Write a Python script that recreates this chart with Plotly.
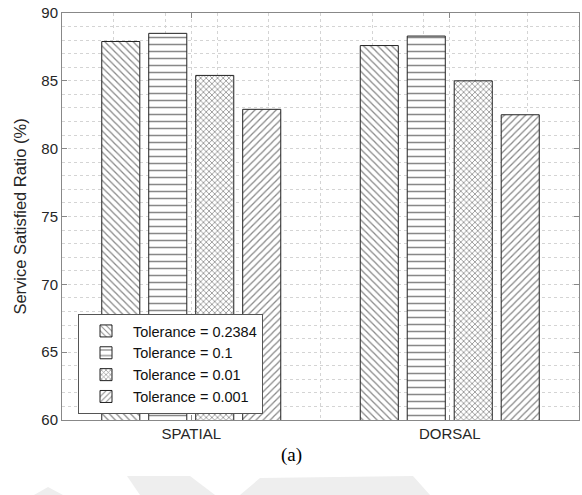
import plotly.graph_objects as go

categories = ["SPATIAL", "DORSAL"]
series_names = ["Tolerance = 0.2384", "Tolerance = 0.1", "Tolerance = 0.01", "Tolerance = 0.001"]
tol_02384 = [87.9, 87.6]
tol_01 = [88.5, 88.3]
tol_001 = [85.4, 85.0]
tol_0001 = [82.9, 82.5]
y_ticks = [60, 65, 70, 75, 80, 85, 90]

series_values = [tol_02384, tol_01, tol_001, tol_0001]
patterns = [("\\", 5, 0.25), ("-", 7, 0.22), ("x", 4, 0.35), ("/", 5, 0.25)]

xpos = list(range(1, len(categories) + 1))

fig = go.Figure()
for name, vals, (shape, size, sol) in zip(series_names, series_values, patterns):
    fig.add_trace(go.Bar(
        x=xpos, y=vals, name=name,
        marker=dict(color="white",
                    line=dict(color="#222222", width=1),
                    pattern=dict(shape=shape, fgcolor="#111111", bgcolor="white",
                                 size=size, solidity=sol)),
    ))

W, H = 582, 495
# plot area in page pixels: x 62..579, y 13..420
L, R, T, B = 62, 582 - 579, 13, 495 - 420
pw, ph = W - L - R, H - T - B

def px(x):  # page x -> paper x
    return (x - L) / pw

def py(y):  # page y -> paper y
    return (H - B - y) / ph

wm = "#eeeeee"
shapes = [
    dict(type="path", xref="paper", yref="paper",
         path=f"M {px(34)},{py(495)} L {px(48)},{py(487)} L {px(63)},{py(495)} Z",
         fillcolor=wm, line=dict(width=0), layer="below"),
    dict(type="path", xref="paper", yref="paper",
         path=f"M {px(127)},{py(476)} L {px(190)},{py(476)} L {px(215)},{py(495)} L {px(140)},{py(495)} Z",
         fillcolor=wm, line=dict(width=0), layer="below"),
    dict(type="path", xref="paper", yref="paper",
         path=f"M {px(240)},{py(495)} L {px(260)},{py(478)} L {px(413)},{py(476)} L {px(430)},{py(495)} Z",
         fillcolor=wm, line=dict(width=0), layer="below"),
]

fig.update_layout(
    width=W, height=H,
    margin=dict(l=L, r=R, t=T, b=B, autoexpand=False),
    paper_bgcolor="white", plot_bgcolor="white",
    barmode="group", bargap=0.273, bargroupgap=0.19,
    font=dict(family="Liberation Sans, Arial, sans-serif", size=15, color="#262626"),
    showlegend=True,
    legend=dict(x=px(78), y=py(364), xanchor="left", yanchor="middle",
                bgcolor="white", bordercolor="#555555", borderwidth=1,
                font=dict(size=14.5, color="#111111"),
                tracegroupgap=0, itemwidth=44),
    shapes=shapes,
    annotations=[dict(text="(a)", xref="paper", yref="paper",
                      x=px(291), y=py(455), xanchor="center", yanchor="middle",
                      showarrow=False,
                      font=dict(family="Liberation Serif, Times New Roman, serif",
                                size=19, color="black"))],
)

fig.update_xaxes(
    range=[0.5, 2.5], tickvals=xpos, ticktext=categories,
    showline=True, linecolor="#888888", linewidth=1, mirror="ticks",
    ticks="inside", ticklen=5, tickcolor="#888888",
    showgrid=True, gridcolor="#d4d4d4", griddash="dot", gridwidth=1,
    minor=dict(dtick=0.2, tick0=0.5, showgrid=True, gridcolor="#d4d4d4", griddash="dot", ticks=""),
    zeroline=False, tickfont=dict(size=15), automargin=False,
)
fig.update_yaxes(
    range=[60, 90], tickvals=y_ticks,
    showline=True, linecolor="#888888", linewidth=1, mirror="ticks",
    ticks="inside", ticklen=5, tickcolor="#888888",
    showgrid=True, gridcolor="#d4d4d4", griddash="dot", gridwidth=1,
    minor=dict(dtick=1, showgrid=True, gridcolor="#d4d4d4", griddash="dot", ticks=""),
    zeroline=False, tickfont=dict(size=15), automargin=False,
    title=dict(text="Service Satisfied Ratio (%)", font=dict(size=16.5), standoff=10),
)

fig.write_html("out.html",
               config={"displayModeBar": False},
               post_script="document.body.style.margin='0px';document.body.style.overflow='hidden';")
